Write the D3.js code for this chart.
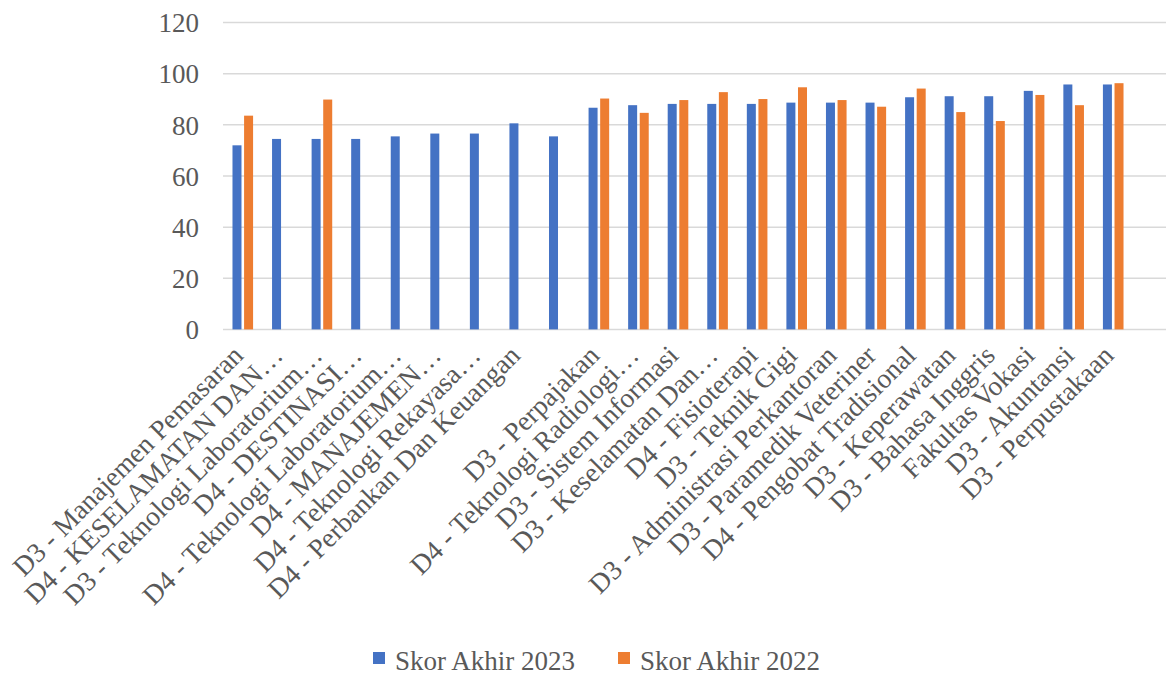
<!DOCTYPE html>
<html>
<head>
<meta charset="utf-8">
<script src="https://cdn.jsdelivr.net/npm/d3@7"></script>
<style>
  html, body { margin: 0; padding: 0; background: #fff; }
  svg { display: block; }
  text { font-family: "Liberation Serif", "Times New Roman", serif; fill: #595959; }
</style>
</head>
<body>
<svg id="chart" width="1166" height="675"></svg>
<script>
const categories = [
  "D3 - Manajemen Pemasaran",
  "D4 - KESELAMATAN DAN…",
  "D3 - Teknologi Laboratorium…",
  "D4 - DESTINASI…",
  "D4 - Teknologi Laboratorium…",
  "D4 - MANAJEMEN…",
  "D4 - Teknologi Rekayasa…",
  "D4 - Perbankan Dan Keuangan",
  "",
  "D3 - Perpajakan",
  "D4 - Teknologi Radiologi…",
  "D3 - Sistem Informasi",
  "D3 - Keselamatan Dan…",
  "D4 - Fisioterapi",
  "D3 - Teknik Gigi",
  "D3 - Administrasi Perkantoran",
  "D3 - Paramedik Veteriner",
  "D4 - Pengobat Tradisional",
  "D3 - Keperawatan",
  "D3 - Bahasa Inggris",
  "Fakultas Vokasi",
  "D3 - Akuntansi",
  "D3 - Perpustakaan"
];
const skor2023 = [72.0, 74.5, 74.5, 74.5, 75.5, 76.6, 76.6, 80.6, 75.5, 86.7, 87.7, 88.2, 88.2, 88.2, 88.7, 88.7, 88.7, 90.8, 91.2, 91.2, 93.3, 95.8, 95.8];
const skor2022 = [83.6, null, 89.9, null, null, null, null, null, null, 90.3, 84.7, 89.7, 92.8, 90.1, 94.7, 89.7, 87.1, 94.2, 85.0, 81.5, 91.7, 87.7, 96.3];
const seriesNames = ["Skor Akhir 2023", "Skor Akhir 2022"];
const seriesColors = ["#4472C4", "#ED7D31"];
const yTicks = [0, 20, 40, 60, 80, 100, 120];

const svg = d3.select("#chart");
const plotLeft = 223, plotRight = 1133, gridRight = 1166;
const y0 = 329.4, yTop = 22.6;

const x = d3.scaleBand().domain(d3.range(categories.length)).range([plotLeft, plotRight]).paddingInner(0).paddingOuter(0);
const y = d3.scaleLinear().domain([0, 120]).range([y0, yTop]);
const barW = 9, gap = 2.6;

// gridlines
svg.append("g").selectAll("line").data(yTicks).join("line")
  .attr("x1", plotLeft).attr("x2", gridRight)
  .attr("y1", d => y(d)).attr("y2", d => y(d))
  .attr("stroke", "#D9D9D9").attr("stroke-width", 1.5);

// y labels
const yAxis = d3.axisLeft(y).tickValues(yTicks).tickSize(0).tickPadding(0);
const ya = svg.append("g").attr("transform", `translate(199,0)`).call(yAxis);
ya.select(".domain").remove();
ya.selectAll("text").attr("font-size", 27).attr("fill", "#595959")
  .attr("font-family", "Liberation Serif, Times New Roman, serif").attr("dy", "0.34em");

// bars
const data = categories.map((c, i) => ({ i, v: [skor2023[i], skor2022[i]] }));
const groups = svg.append("g").selectAll("g").data(data).join("g");
groups.selectAll("rect").data(d => d.v.map((v, s) => ({ i: d.i, v, s })).filter(e => e.v != null))
  .join("rect")
  .attr("x", e => x(e.i) + x.bandwidth() / 2 - barW - gap / 2 + e.s * (barW + gap))
  .attr("width", barW)
  .attr("y", e => y(e.v))
  .attr("height", e => y(0) - y(e.v))
  .attr("fill", e => seriesColors[e.s]);

// category labels
svg.append("g").selectAll("text").data(categories).join("text")
  .attr("transform", (c, i) => `translate(${x(i) + x.bandwidth() / 2 + 2},${357}) rotate(-45)`)
  .attr("text-anchor", "end")
  .attr("font-size", 27.5)
  .text(c => c);

// legend
const legend = svg.append("g").attr("transform", "translate(373,650)");
const lx = [0, 245];
seriesNames.forEach((n, s) => {
  legend.append("rect").attr("x", lx[s]).attr("y", 2).attr("width", 12).attr("height", 12).attr("fill", seriesColors[s]);
  legend.append("text").attr("x", lx[s] + 22).attr("y", 20).attr("font-size", 27).text(n);
});
</script>
</body>
</html>
